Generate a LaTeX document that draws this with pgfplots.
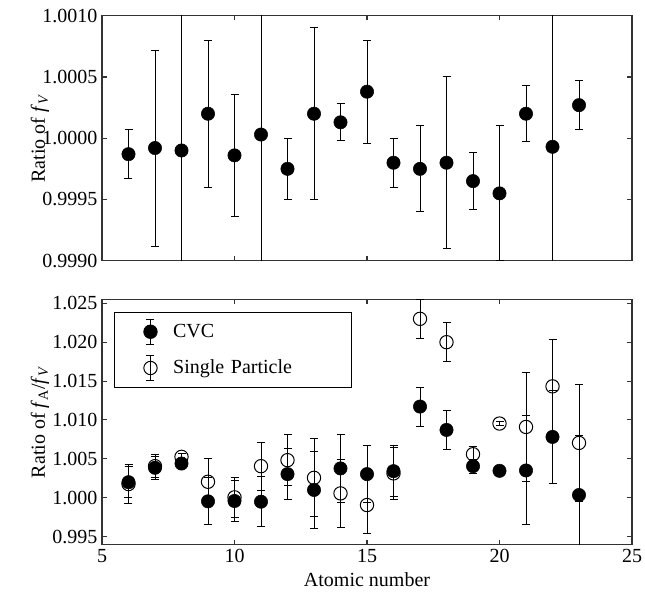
\documentclass[border=0pt]{standalone}
\usepackage{fontspec}
\setmainfont{Liberation Serif}
\usepackage{pgfplots}
\pgfplotsset{compat=1.18}
\usepackage{pgfplotstable}

\pgfplotstableread{
z v e
6 0.99987 0.00020
7 0.99992 0.00080
8 0.99990 0.00300
9 1.00020 0.00060
10 0.99986 0.00050
11 1.00003 0.00300
12 0.99975 0.00025
13 1.00020 0.00070
14 1.00013 0.00015
15 1.00038 0.00042
16 0.99980 0.00020
17 0.99975 0.00035
18 0.99980 0.00070
19 0.99965 0.00023
20 0.99955 0.00055
21 1.00020 0.00023
22 0.99993 0.00300
23 1.00027 0.00020
}\fvtab

\pgfplotstableread{
z v e
6 1.00200 0.0020
7 1.00385 0.0015
8 1.00440 0.0002
9 0.99954 0.0030
10 0.99958 0.0026
11 0.99949 0.0032
12 1.00304 0.0033
13 1.00100 0.0050
14 1.00377 0.0044
15 1.00304 0.0037
16 1.00342 0.0033
17 1.01172 0.0025
18 1.00872 0.0025
19 1.00406 0.0009
20 1.00346 0.0002
21 1.00351 0.0070
22 1.00782 0.0060
23 1.00035 0.0076
}\cvctab

\pgfplotstableread{
z v e
6 1.00176 0.0025
7 1.00406 0.0015
8 1.00526 0.0004
9 1.00205 0.0030
10 1.00005 0.0026
11 1.00406 0.0031
12 1.00483 0.0033
13 1.00256 0.0050
14 1.00056 0.0044
15 0.99906 0.0037
16 1.00313 0.0033
17 1.02300 0.0025
18 1.02000 0.0025
19 1.00560 0.0010
20 1.00954 0.0002
21 1.00910 0.0070
22 1.01432 0.0060
23 1.00705 0.0075
}\sptab

\begin{document}
\begin{tikzpicture}
\pgfplotsset{
  myax/.style={
    width=397.5pt, height=183.75pt, scale only axis,
    xmin=5, xmax=25, xtick={5,10,15,20,25},
    tick align=inside, major tick length=3.5pt,
    axis line style={line width=0.9pt, black!80},
    tick style={line width=0.8pt, black!80},
    tick label style={font=\fontsize{15}{18}\selectfont},
    label style={font=\fontsize{15}{18}\selectfont},
    /pgf/number format/assume math mode=true,
    ylabel style={at={(axis description cs:-0.117,0.5)}, anchor=center},
  },
}
\begin{axis}[myax, name=top,
  xticklabels={},
  ymin=0.999, ymax=1.001,
  ytick={0.999,0.9995,1,1.0005,1.001},
  yticklabel style={/pgf/number format/.cd, fixed, fixed zerofill, precision=4},
  ylabel={Ratio of \textit{f}\textsubscript{\textit{V}}},
]
\addplot[only marks, mark=*, mark size=5pt, black,
  error bars/.cd, y dir=both, y explicit,
  error bar style={line width=0.75pt, black},
  error mark options={rotate=90, mark size=3pt, line width=0.75pt, black}]
  table[x=z, y=v, y error=e]{\fvtab};
\end{axis}

\begin{axis}[myax, name=bot, at={(top.south west)}, anchor=north west, yshift=-29pt,
  ymin=0.994, ymax=1.0255,
  ytick={0.995,1,1.005,1.01,1.015,1.02,1.025},
  yticklabel style={/pgf/number format/.cd, fixed, fixed zerofill, precision=3},
  ylabel={Ratio of \textit{f}\textsubscript{A}/\textit{f}\textsubscript{\textit{V}}},
  xlabel={Atomic number},
  xlabel style={at={(axis description cs:0.5,-0.143)}, anchor=center},
  legend cell align=left,
  legend style={at={(axis description cs:0.0226,0.949)}, anchor=north west,
    draw=black, line width=0.75pt, inner xsep=0pt, inner ysep=1.5pt, row sep=1.2pt,
    font=\fontsize{15}{18}\selectfont,
    nodes={draw=none, inner xsep=0pt, text width=134pt}},
]
\addplot[only marks, mark=*, mark size=5pt, black,
  legend image code/.code={
    \path[draw=none, fill=none] (0pt,-13pt) rectangle (44pt,13pt);
    \draw[line width=0.75pt] (27pt,-9.4pt)--(27pt,9.4pt) (24pt,-9.4pt)--(30pt,-9.4pt) (24pt,9.4pt)--(30pt,9.4pt);
    \fill[black] (27pt,0pt) circle (5pt);
  },
  error bars/.cd, y dir=both, y explicit,
  error bar style={line width=0.75pt, black},
  error mark options={rotate=90, mark size=3pt, line width=0.75pt, black}]
  table[x=z, y=v, y error=e]{\cvctab};
\addlegendentry{CVC}
\addplot[only marks, mark=o, mark size=5pt, black, mark options={line width=0.75pt},
  legend image code/.code={
    \path[draw=none, fill=none] (0pt,-13pt) rectangle (44pt,13pt);
    \draw[line width=0.75pt] (27pt,-9.4pt)--(27pt,9.4pt) (24pt,-9.4pt)--(30pt,-9.4pt) (24pt,9.4pt)--(30pt,9.4pt);
    \draw[line width=0.75pt] (27pt,0pt) circle (5pt);
  },
  error bars/.cd, y dir=both, y explicit,
  error bar style={line width=0.75pt, black},
  error mark options={rotate=90, mark size=3pt, line width=0.75pt, black}]
  table[x=z, y=v, y error=e]{\sptab};
\addlegendentry{Single Particle}
\end{axis}
\pgfresetboundingbox
\path ([xshift=-76.5pt,yshift=11.8pt]top.north west) rectangle ([xshift=9.75pt,yshift=-39pt]bot.south east);
\end{tikzpicture}
\end{document}
